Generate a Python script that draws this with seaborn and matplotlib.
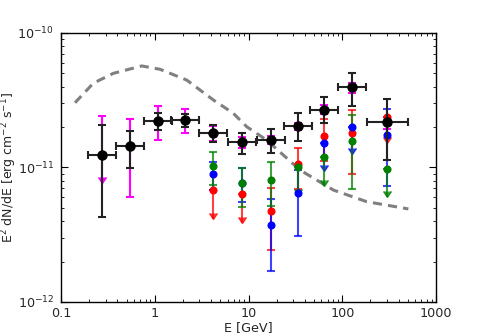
import numpy as np
import pandas as pd
import matplotlib
matplotlib.use("Agg")
import matplotlib.pyplot as plt
import seaborn as sns

sns.set_style("ticks", {"xtick.direction": "in", "ytick.direction": "in"})
plt.rcParams["font.family"] = ["DejaVu Sans"]

# energy bins [GeV]
E = [0.276, 0.545, 1.075, 2.12, 4.21, 8.53, 17.3, 33.7, 64.4, 128, 300]
E_low = [0.195, 0.385, 0.76, 1.50, 2.98, 6.03, 12.2, 23.8, 45.5, 90.5, 182]
E_high = [0.39, 0.77, 1.52, 3.0, 5.95, 12.06, 24.5, 47.7, 91.1, 181, 499]

# black points (combined spectrum)
F_k = [1.24e-11, 1.44e-11, 2.23e-11, 2.24e-11, 1.81e-11, 1.54e-11, 1.61e-11, 2.05e-11, 2.69e-11, 3.95e-11, 2.18e-11]
F_k_hi = [2.06e-11, 1.88e-11, 2.56e-11, 2.50e-11, 2.08e-11, 1.81e-11, 1.94e-11, 2.53e-11, 3.36e-11, 5.07e-11, 3.23e-11]
F_k_lo = [4.26e-12, 9.87e-12, 1.90e-11, 2.01e-11, 1.55e-11, 1.26e-11, 1.28e-11, 1.57e-11, 2.13e-11, 2.87e-11, 1.13e-11]

# magenta (same energies and fluxes as black)
M_hi = [2.41e-11, 2.31e-11, 2.87e-11, 2.71e-11, 2.05e-11, 1.69e-11, 1.72e-11, 2.13e-11, 2.90e-11, 4.27e-11, 2.37e-11]
M_lo = [7.63e-12, 6.0e-12, 1.59e-11, 1.81e-11, 1.58e-11, 1.40e-11, 1.49e-11, 1.90e-11, 2.49e-11, 3.60e-11, 1.92e-11]
M_ul = [True, False, False, False, False, False, False, False, False, False, False]

# coloured points, energies E[4:]
E_c = E[4:]
R_F = [6.80e-12, 6.39e-12, 4.75e-12, 1.056e-11, 1.71e-11, 1.81e-11, 2.39e-11]
R_hi = [6.80e-12, 6.39e-12, 7.00e-12, 1.40e-11, 2.29e-11, 2.68e-11, 2.39e-11]
R_lo = [4.16e-12, 3.89e-12, 2.44e-12, 6.92e-12, 1.12e-11, 9.0e-12, 1.51e-11]
R_ul = [True, True, False, False, False, False, True]

B_F = [8.90e-12, 7.7e-12, 3.76e-12, 6.43e-12, 1.52e-11, 2.01e-11, 1.74e-11]
B_hi = [1.09e-11, 9.92e-12, 5.80e-12, 9.6e-12, 1.52e-11, 2.01e-11, 2.72e-11]
B_lo = [6.80e-12, 5.54e-12, 1.70e-12, 3.10e-12, 9.42e-12, 1.25e-11, 7.29e-12]
B_ul = [False, False, False, False, True, True, False]

G_F = [1.026e-11, 7.63e-12, 8.12e-12, 1.00e-11, 1.19e-11, 1.58e-11, 9.70e-12]
G_hi = [1.30e-11, 9.92e-12, 1.10e-11, 1.00e-11, 1.19e-11, 2.47e-11, 9.70e-12]
G_lo = [7.45e-12, 5.06e-12, 5.17e-12, 6.25e-12, 7.29e-12, 6.96e-12, 6.0e-12]
G_ul = [False, False, False, True, True, False, True]

# dashed model curve
E_mod = [0.141, 0.221, 0.361, 0.726, 1.14, 2.19, 4.21, 6.88, 9.57, 15.6, 35.4, 80.3, 182, 507]
F_mod = [3.03e-11, 4.23e-11, 5.01e-11, 5.69e-11, 5.37e-11, 4.47e-11, 3.18e-11, 2.53e-11,
         2.01e-11, 1.60e-11, 9.58e-12, 6.80e-12, 5.57e-12, 4.92e-12]

fig = plt.figure(figsize=(4.85, 3.36), dpi=100)
ax = fig.add_axes([0.1258, 0.1012, 0.7732, 0.8006])
ax.set_xscale("log")
ax.set_yscale("log")

sns.lineplot(x=E_mod, y=F_mod, ax=ax, color="gray", lw=2.2,
             linestyle=(0, (3, 2)), zorder=1)


def limbars(x, y, lo, hi, ul, color, ms, z, alpha=0.75):
    x = np.asarray(x); y = np.asarray(y)
    lo = np.asarray(lo); hi = np.asarray(hi); ul = np.asarray(ul)
    ax.vlines(x, lo, hi, color=color, lw=1.5, alpha=alpha, zorder=z)
    ax.plot(x, hi, ls="none", marker="_", ms=6, mew=1.5, color=color, alpha=alpha, zorder=z)
    ax.plot(x[~ul], lo[~ul], ls="none", marker="_", ms=6, mew=1.5, color=color, alpha=alpha, zorder=z)
    ax.plot(x[ul], lo[ul], ls="none", marker=7, ms=6, color=color, alpha=alpha, zorder=z)
    if ms > 0:
        ax.plot(x, y, ls="none", marker="o", ms=ms, color=color, mec=color, zorder=z + 0.5)


limbars(E, F_k, M_lo, M_hi, M_ul, "#ff00ff", 0, 2, alpha=1.0)
limbars(E_c, R_F, R_lo, R_hi, R_ul, "red", 4.8, 3)
limbars(E_c, B_F, B_lo, B_hi, B_ul, "blue", 4.8, 3.2)
limbars(E_c, G_F, G_lo, G_hi, G_ul, "green", 4.8, 3.4)

xerr = [np.array(E) - np.array(E_low), np.array(E_high) - np.array(E)]
yerr = [np.array(F_k) - np.array(F_k_lo), np.array(F_k_hi) - np.array(F_k)]
ax.errorbar(E, F_k, xerr=xerr, yerr=yerr, fmt="o", color="black", ms=6.5,
            elinewidth=1.5, capsize=3, capthick=1.5, ecolor="#222222", zorder=5)

ax.set_xlim(0.1, 1000)
ax.set_ylim(1e-12, 1e-10)
ax.set_xticks([0.1, 1, 10, 100, 1000])
ax.set_xticklabels(["0.1", "1", "10", "100", "1000"])
ax.tick_params(which="both", direction="in", top=True, right=True, labelsize=9.2, color="black")
ax.tick_params(which="major", length=5, width=0.8)
ax.tick_params(which="minor", length=2.5, width=0.6)
ax.tick_params(axis="y", pad=5)
for s in ax.spines.values():
    s.set_color("black")
    s.set_linewidth(1.0)

ax.set_xlabel("E [GeV]", fontsize=9.2, labelpad=1)
ax.set_ylabel(r"E$^2$ dN/dE [erg cm$^{-2}$ s$^{-1}$]", fontsize=9)
ax.yaxis.set_label_coords(-0.112, 0.5)

fig.savefig("out.png", dpi=100)
